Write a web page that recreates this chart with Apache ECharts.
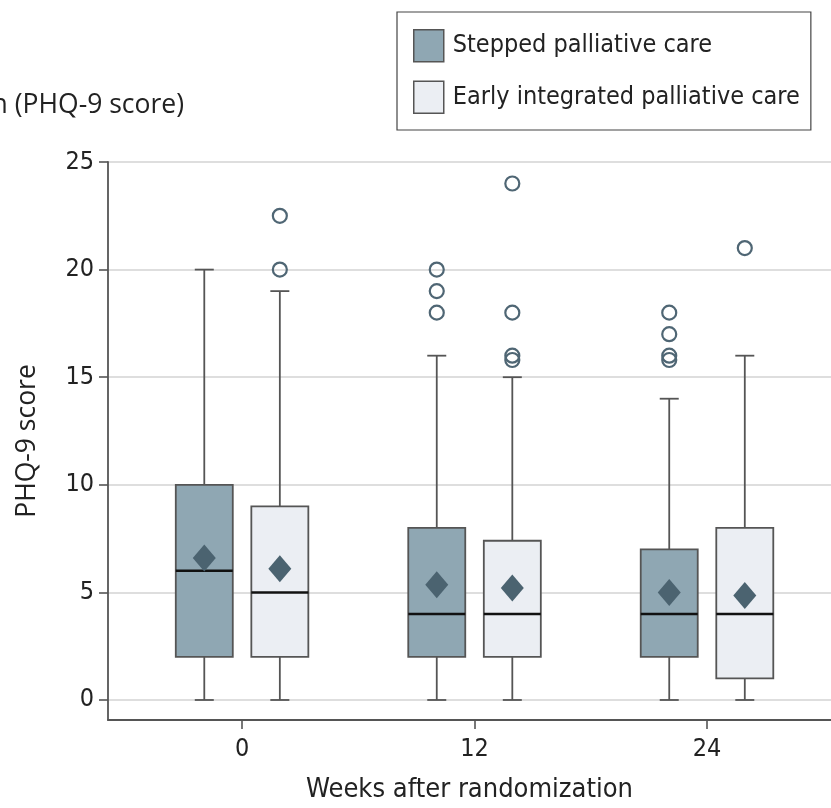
<!DOCTYPE html>
<html>
<head>
<meta charset="utf-8">
<script src="https://cdn.jsdelivr.net/npm/echarts@6/dist/echarts.min.js"></script>
<style>
  html, body { margin: 0; padding: 0; background: #fff; }
  #chart { width: 831px; height: 808px; }
</style>
</head>
<body>
<div id="chart"></div>
<script>
// Depression scores (PHQ-9) by visit week and study arm
const weeks = [0, 12, 24];
const yTicks = [0, 5, 10, 15, 20, 25];

const steppedLow = [0, 0, 0];
const steppedQ1 = [2, 2, 2];
const steppedMedian = [6, 4, 4];
const steppedQ3 = [10, 8, 7];
const steppedHigh = [20, 16, 14];
const steppedMean = [6.6, 5.35, 5.0];
const steppedOutliers = [[], [20, 19, 18], [18, 17, 16, 15.8]];

const earlyLow = [0, 0, 0];
const earlyQ1 = [2, 2, 1];
const earlyMedian = [5, 4, 4];
const earlyQ3 = [9, 7.4, 8];
const earlyHigh = [19, 15, 16];
const earlyMean = [6.1, 5.2, 4.85];
const earlyOutliers = [[22.5, 20], [24, 18, 16, 15.8], [21]];

const arms = [
  { name: 'Stepped palliative care', fill: '#8fa7b3', shift: -1.95,
    low: steppedLow, q1: steppedQ1, med: steppedMedian, q3: steppedQ3, high: steppedHigh,
    mean: steppedMean, out: steppedOutliers },
  { name: 'Early integrated palliative care', fill: '#ebeef3', shift: 1.95,
    low: earlyLow, q1: earlyQ1, med: earlyMedian, q3: earlyQ3, high: earlyHigh,
    mean: earlyMean, out: earlyOutliers }
];

const COND = '"DejaVu Sans Condensed", "Liberation Sans Narrow", "Noto Sans", sans-serif';
const WIDE = '"Open Sans", "Noto Sans", sans-serif';
const INK = '#222';
const EDGE = '#555';
const MARK = '#4b6370';

const series = [];
arms.forEach(function (arm) {
  const boxData = weeks.map(function (w, i) {
    return [w + arm.shift, arm.low[i], arm.q1[i], arm.med[i], arm.q3[i], arm.high[i]];
  });
  series.push({
    name: arm.name,
    type: 'custom',
    z: 2,
    data: boxData,
    encode: { x: 0, y: [1, 2, 3, 4, 5] },
    renderItem: function (params, api) {
      const x = api.value(0);
      const pLow = api.coord([x, api.value(1)]);
      const pQ1 = api.coord([x, api.value(2)]);
      const pMed = api.coord([x, api.value(3)]);
      const pQ3 = api.coord([x, api.value(4)]);
      const pHigh = api.coord([x, api.value(5)]);
      const cx = pLow[0];
      const half = 28.5;
      const cap = 9.5;
      const lineStyle = { stroke: EDGE, lineWidth: 1.8, fill: null };
      return {
        type: 'group',
        children: [
          { type: 'line', shape: { x1: cx, y1: pQ3[1], x2: cx, y2: pHigh[1] }, style: lineStyle },
          { type: 'line', shape: { x1: cx, y1: pQ1[1], x2: cx, y2: pLow[1] }, style: lineStyle },
          { type: 'line', shape: { x1: cx - cap, y1: pHigh[1], x2: cx + cap, y2: pHigh[1] }, style: lineStyle },
          { type: 'line', shape: { x1: cx - cap, y1: pLow[1], x2: cx + cap, y2: pLow[1] }, style: lineStyle },
          { type: 'rect', shape: { x: cx - half, y: pQ3[1], width: half * 2, height: pQ1[1] - pQ3[1] },
            style: { fill: arm.fill, stroke: EDGE, lineWidth: 1.8 } },
          { type: 'line', shape: { x1: cx - half, y1: pMed[1], x2: cx + half, y2: pMed[1] },
            style: { stroke: '#111', lineWidth: 2.5 } }
        ]
      };
    }
  });
  series.push({
    name: arm.name + ' mean',
    type: 'scatter',
    z: 4,
    symbol: 'diamond',
    symbolSize: [23, 27],
    itemStyle: { color: MARK, opacity: 1 },
    data: weeks.map(function (w, i) { return [w + arm.shift, arm.mean[i]]; })
  });
  const outPts = [];
  weeks.forEach(function (w, i) {
    arm.out[i].forEach(function (v) { outPts.push([w + arm.shift, v]); });
  });
  series.push({
    name: arm.name + ' outliers',
    type: 'scatter',
    z: 4,
    symbol: 'circle',
    symbolSize: 14,
    itemStyle: { color: 'rgba(255,255,255,0)', borderColor: '#4f6674', borderWidth: 2.2, opacity: 1 },
    data: outPts
  });
});

const chart = echarts.init(document.getElementById('chart'), null, { renderer: 'canvas' });
chart.setOption({
  animation: false,
  backgroundColor: '#fff',
  textStyle: { fontFamily: COND },
  grid: { left: 108, right: 0, top: 162, bottom: 87 },
  legend: {
    left: 397, top: 12,
    orient: 'vertical',
    itemWidth: 30, itemHeight: 32, itemGap: 18,
    padding: [17, 11, 16, 16],
    borderColor: '#444', borderWidth: 1.2,
    textStyle: { fontFamily: COND, fontSize: 25, color: INK, padding: [0, 0, 0, 4] },
    data: arms.map(function (a) {
      return { name: a.name, icon: 'rect',
        itemStyle: { color: a.fill, borderColor: EDGE, borderWidth: 1.5 } };
    })
  },
  graphic: [{
    type: 'text', x: 184, y: 105,
    style: { text: 'Depression (PHQ-9 score)', fontFamily: WIDE, fontSize: 26.5, fill: INK,
      textAlign: 'right', textVerticalAlign: 'middle' }
  }],
  xAxis: {
    type: 'value',
    min: -6.92, max: 30.4,
    name: 'Weeks after randomization',
    nameLocation: 'middle', nameGap: 56,
    nameTextStyle: { fontFamily: COND, fontSize: 27, color: INK },
    axisLine: { onZero: false, lineStyle: { color: '#555', width: 1.8 } },
    axisTick: { show: true, length: 9, customValues: weeks, lineStyle: { color: '#555', width: 1.6 } },
    axisLabel: { customValues: weeks, margin: 17, fontFamily: COND, fontSize: 25, color: INK },
    splitLine: { show: false }
  },
  yAxis: {
    type: 'value',
    min: -0.93, max: 25,
    name: 'PHQ-9 score',
    nameLocation: 'middle', nameGap: 67, nameRotate: 90,
    nameTextStyle: { fontFamily: WIDE, fontSize: 26.5, color: INK },
    axisLine: { show: true, onZero: false, lineStyle: { color: '#555', width: 1.8 } },
    axisTick: { show: true, length: 9, customValues: yTicks, lineStyle: { color: '#555', width: 1.6 } },
    axisLabel: { customValues: yTicks, margin: 14, fontFamily: COND, fontSize: 25, color: INK },
    splitLine: { show: true, lineStyle: { color: '#dedede', width: 2 } }
  },
  series: series
});
</script>
</body>
</html>
